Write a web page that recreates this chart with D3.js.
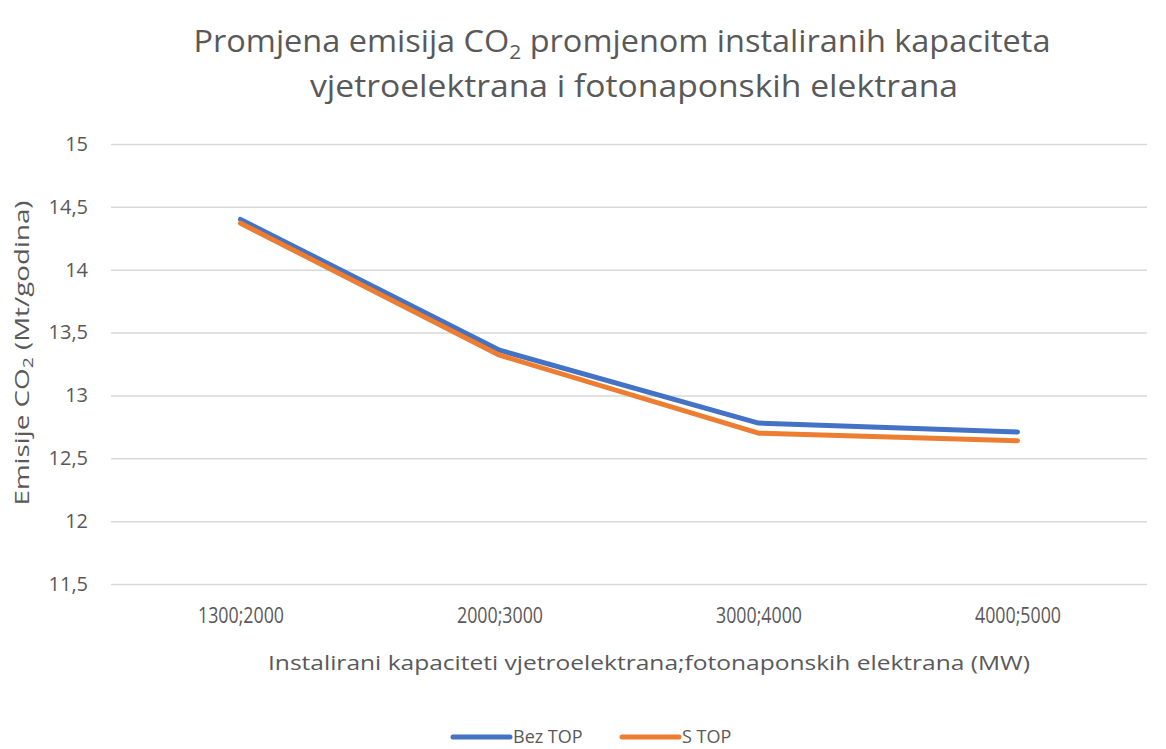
<!DOCTYPE html>
<html>
<head>
<meta charset="utf-8">
<script src="https://cdn.jsdelivr.net/npm/d3@7"></script>
<style>
  body { margin: 0; background: #fff; }
  svg text { font-family: "Open Sans", "Liberation Sans", sans-serif; fill: #595959; }
</style>
</head>
<body>
<div id="chart"></div>
<script>
// Chart data
const categories = ["1300;2000", "2000;3000", "3000;4000", "4000;5000"];
const bezTop = [14.40, 13.36, 12.78, 12.71];
const sTop = [14.37, 13.32, 12.70, 12.64];
const yTicks = [11.5, 12, 12.5, 13, 13.5, 14, 14.5, 15];

const seriesList = [
    { name: "Bez TOP", values: bezTop, color: "#4472C4" },
    { name: "S TOP", values: sTop, color: "#ED7D31" }
];

const width = 1166, height = 749;
const margin = { top: 144, right: 19, bottom: 165, left: 111 };

const svg = d3.select("#chart").append("svg")
    .attr("width", width)
    .attr("height", height);

const x = d3.scalePoint()
    .domain(categories)
    .range([margin.left, width - margin.right])
    .padding(0.5);

const y = d3.scaleLinear()
    .domain([11.5, 15])
    .range([height - margin.bottom, margin.top]);

// Gridlines + y labels
const yAxis = svg.append("g")
    .attr("transform", `translate(${margin.left},0)`)
    .call(d3.axisLeft(y)
        .tickValues(yTicks)
        .tickSize(-(width - margin.left - margin.right))
        .tickPadding(23)
        .tickFormat(d => String(d).replace(".", ",")));
yAxis.select(".domain").remove();
yAxis.selectAll(".tick line").attr("stroke", "#d9d9d9").attr("stroke-width", 1.5);
yAxis.selectAll(".tick text").style("font-size", "20px").attr("fill", "#595959");

// X labels
const xAxis = svg.append("g")
    .attr("transform", `translate(0,${height - margin.bottom})`)
    .call(d3.axisBottom(x).tickSize(0).tickPadding(24));
xAxis.select(".domain").remove();
xAxis.selectAll(".tick text").style("font-size", "21px").attr("fill", "#595959")
    .attr("textLength", 86).attr("lengthAdjust", "spacingAndGlyphs");

// Lines
const line = d3.line()
    .x((d, i) => x(categories[i]))
    .y(d => y(d));

svg.selectAll(".series")
    .data(seriesList)
    .enter()
    .append("path")
    .attr("class", "series")
    .attr("d", d => line(d.values))
    .attr("fill", "none")
    .attr("stroke", d => d.color)
    .attr("stroke-width", 5)
    .attr("stroke-linecap", "round")
    .attr("stroke-linejoin", "round");

// Title
const title = svg.append("g").attr("text-anchor", "middle");
const t1 = title.append("text")
    .attr("x", 622).attr("y", 52)
    .style("font-size", "31px")
    .attr("textLength", 857).attr("lengthAdjust", "spacingAndGlyphs");
t1.append("tspan").text("Promjena emisija CO");
t1.append("tspan").text("2").style("font-size", "20px").attr("dy", 7);
t1.append("tspan").text(" promjenom instaliranih kapaciteta").attr("dy", -7);
title.append("text")
    .attr("x", 634).attr("y", 97)
    .style("font-size", "31px")
    .attr("textLength", 648).attr("lengthAdjust", "spacingAndGlyphs")
    .text("vjetroelektrana i fotonaponskih elektrana");

// Y axis title
const yt = svg.append("text")
    .attr("transform", "translate(29,353) rotate(-90)")
    .attr("text-anchor", "middle")
    .style("font-size", "20px")
    .attr("textLength", 305).attr("lengthAdjust", "spacingAndGlyphs");
yt.append("tspan").text("Emisije CO");
yt.append("tspan").text("2").style("font-size", "14px").attr("dy", 4);
yt.append("tspan").text(" (Mt/godina)").attr("dy", -4);

// X axis title
svg.append("text")
    .attr("x", 649).attr("y", 670)
    .attr("text-anchor", "middle")
    .style("font-size", "20px")
    .attr("textLength", 762).attr("lengthAdjust", "spacingAndGlyphs")
    .text("Instalirani kapaciteti vjetroelektrana;fotonaponskih elektrana (MW)");

// Legend
const legendX = [453, 622];
const legend = svg.selectAll(".legend")
    .data(seriesList)
    .enter()
    .append("g")
    .attr("class", "legend")
    .attr("transform", (d, i) => `translate(${legendX[i]},737)`);
legend.append("line")
    .attr("x1", 0).attr("x2", 57)
    .attr("stroke", d => d.color)
    .attr("stroke-width", 5)
    .attr("stroke-linecap", "round");
legend.append("text")
    .attr("x", 60).attr("y", 6)
    .style("font-size", "18px")
    .text(d => d.name);
</script>
</body>
</html>
